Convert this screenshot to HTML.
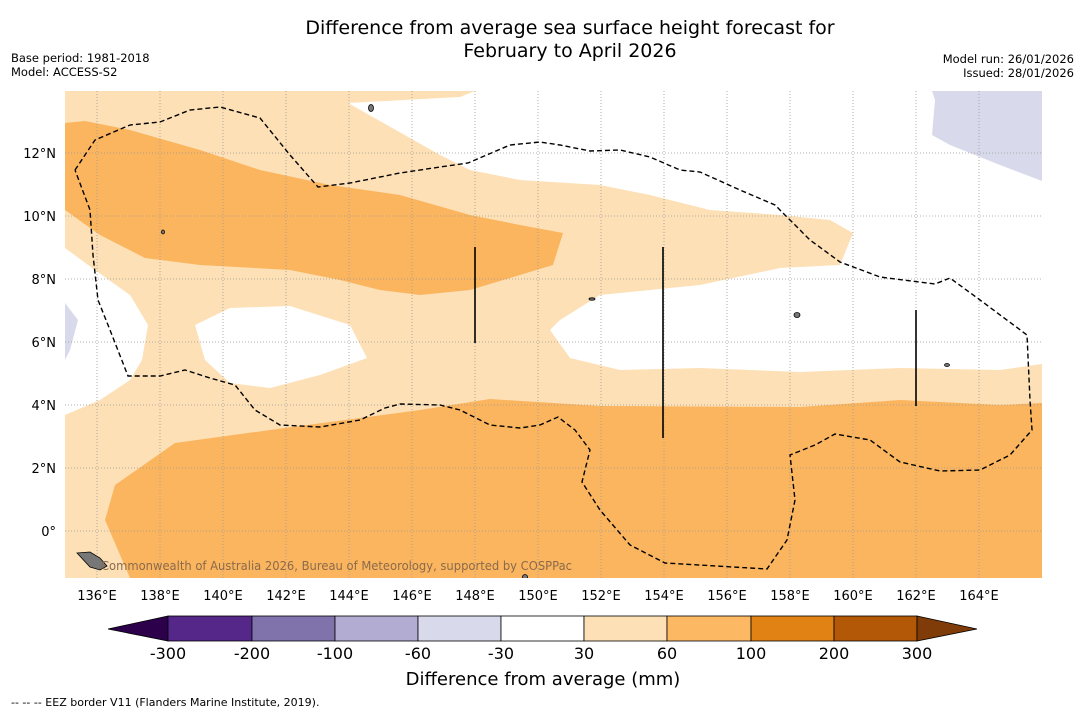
<!DOCTYPE html>
<html><head><meta charset="utf-8">
<style>
body{margin:0;background:#fff;width:1085px;height:713px;overflow:hidden;font-family:"Liberation Sans",sans-serif;}
svg text{font-family:"DejaVu Sans","Liberation Sans",sans-serif;}
</style></head>
<body>
<svg width="1085" height="713" viewBox="0 0 1085 713" xmlns="http://www.w3.org/2000/svg">
<rect width="1085" height="713" fill="#fff"/>
<text x="570" y="34" font-size="19" text-anchor="middle">Difference from average sea surface height forecast for</text>
<text x="570" y="57" font-size="19" text-anchor="middle">February to April 2026</text>
<text x="11" y="62" font-size="11.5">Base period: 1981-2018</text>
<text x="11" y="76" font-size="11.5">Model: ACCESS-S2</text>
<text x="1074" y="63" font-size="11.5" text-anchor="end">Model run: 26/01/2026</text>
<text x="1074" y="77" font-size="11.5" text-anchor="end">Issued: 28/01/2026</text>

<defs><clipPath id="mc"><rect x="65" y="91" width="977" height="487"/></clipPath></defs>
<g clip-path="url(#mc)">
<rect x="65" y="91" width="977" height="487" fill="#fde0b6"/>
<polygon fill="#fff" points="475,91 1042,91 1042,364 1000,370 900,368 800,372 700,368 620,370 570,358 550,330 560,320 600,295 700,285 780,268 840,265 853,233 830,220 780,215 710,210 650,195 600,185 520,180 470,170 440,155 348,103 460,97"/>
<polygon fill="#fff" points="65,248 95,270 130,295 148,325 142,360 130,380 100,400 65,415"/>
<polygon fill="#fff" points="195,325 230,308 290,306 350,325 367,358 320,375 270,388 230,383 205,360"/>
<polygon fill="#d8daeb" points="932,91 1042,91 1042,181 1000,165 950,145 932,135 935,100"/>
<polygon fill="#d8daeb" points="65,303 78,320 70,350 65,360"/>
<polygon fill="#fbb55f" points="65,123 85,121 130,130 200,150 260,170 330,185 400,195 470,215 520,225 563,233 553,265 520,275 470,290 420,295 380,290 340,280 290,270 200,265 145,258 100,235 65,210"/>
<polygon fill="#fbb55f" points="115,485 175,443 270,430 360,418 420,410 490,399 600,406 800,407 900,400 1000,405 1042,403 1042,578 130,578 105,520"/>
<g stroke="#999" stroke-width="0.8" stroke-dasharray="1,2">
<line x1="97" y1="91" x2="97" y2="578"/><line x1="160" y1="91" x2="160" y2="578"/><line x1="223" y1="91" x2="223" y2="578"/><line x1="286" y1="91" x2="286" y2="578"/><line x1="349" y1="91" x2="349" y2="578"/><line x1="412" y1="91" x2="412" y2="578"/><line x1="475" y1="91" x2="475" y2="578"/><line x1="538" y1="91" x2="538" y2="578"/><line x1="601" y1="91" x2="601" y2="578"/><line x1="664" y1="91" x2="664" y2="578"/><line x1="727" y1="91" x2="727" y2="578"/><line x1="790" y1="91" x2="790" y2="578"/><line x1="853" y1="91" x2="853" y2="578"/><line x1="916" y1="91" x2="916" y2="578"/><line x1="979" y1="91" x2="979" y2="578"/>
<line x1="65" y1="153" x2="1042" y2="153"/><line x1="65" y1="216" x2="1042" y2="216"/><line x1="65" y1="279" x2="1042" y2="279"/><line x1="65" y1="342" x2="1042" y2="342"/><line x1="65" y1="405" x2="1042" y2="405"/><line x1="65" y1="468" x2="1042" y2="468"/><line x1="65" y1="531" x2="1042" y2="531"/>
</g>
<polyline fill="none" stroke="#000" stroke-width="1.4" stroke-dasharray="5,3" points="75,170 95,140 130,125 160,122 190,110 220,107 260,118 290,155 318,187 350,183 400,173 440,167 468,163 475,160 510,145 540,142 560,145 590,151 620,150 650,157 680,170 700,172 740,190 775,205 790,220 810,240 840,262 880,277 935,284 950,278 980,300 1027,335 1030,400 1032,430 1010,455 980,470 940,471 900,462 870,440 835,434 815,445 790,455 795,500 787,540 767,569 665,563 630,545 600,510 582,482 590,450 575,430 558,417 540,425 520,428 490,425 460,410 440,405 400,404 385,408 360,420 320,427 280,425 255,410 235,385 210,378 185,370 160,376 128,376 110,330 98,300 93,255 90,210 75,170"/>
<g stroke="#000" stroke-width="1.6">
<line x1="475" y1="247" x2="475" y2="343"/><line x1="663" y1="247" x2="663" y2="438"/><line x1="916" y1="310" x2="916" y2="406"/>
</g>
<g fill="#777" stroke="#000" stroke-width="0.8">
<polygon points="77,553 90,552 100,558 107,566 100,570 90,567"/>
<ellipse cx="371" cy="108" rx="2.5" ry="3.5"/><ellipse cx="797" cy="315" rx="3" ry="2.5"/><ellipse cx="947" cy="365" rx="2.5" ry="1.5"/><ellipse cx="525" cy="577" rx="2.5" ry="2.5"/><ellipse cx="163" cy="232" rx="1.5" ry="2"/><ellipse cx="592" cy="299" rx="3" ry="1.2"/>
</g>
<text x="101" y="570" font-size="12" fill="#8a6a4a" textLength="471" lengthAdjust="spacingAndGlyphs">Commonwealth of Australia 2026, Bureau of Meteorology, supported by COSPPac</text>
</g>

<g font-size="13" text-anchor="middle">
<text x="97" y="600">136°E</text><text x="160" y="600">138°E</text><text x="223" y="600">140°E</text><text x="286" y="600">142°E</text><text x="349" y="600">144°E</text><text x="412" y="600">146°E</text><text x="475" y="600">148°E</text><text x="538" y="600">150°E</text><text x="601" y="600">152°E</text><text x="664" y="600">154°E</text><text x="727" y="600">156°E</text><text x="790" y="600">158°E</text><text x="853" y="600">160°E</text><text x="916" y="600">162°E</text><text x="979" y="600">164°E</text>
</g>
<g font-size="13" text-anchor="end">
<text x="56" y="158">12°N</text><text x="56" y="221">10°N</text><text x="56" y="284">8°N</text><text x="56" y="347">6°N</text><text x="56" y="410">4°N</text><text x="56" y="473">2°N</text><text x="56" y="536">0°</text>
</g>

<g stroke="#000" stroke-width="0.8">
<polygon points="168,616 108,629 168,641" fill="#2d004b"/>
<rect x="168" y="616" width="84" height="25" fill="#542788"/>
<rect x="252" y="616" width="83" height="25" fill="#8073ac"/>
<rect x="335" y="616" width="83" height="25" fill="#b2abd2"/>
<rect x="418" y="616" width="83" height="25" fill="#d8daeb"/>
<rect x="501" y="616" width="83" height="25" fill="#ffffff"/>
<rect x="584" y="616" width="83" height="25" fill="#fee0b6"/>
<rect x="667" y="616" width="84" height="25" fill="#fdb863"/>
<rect x="751" y="616" width="83" height="25" fill="#e08214"/>
<rect x="834" y="616" width="83" height="25" fill="#b35806"/>
<polygon points="917,616 977,629 917,641" fill="#7f3b08"/>
</g>
<g font-size="16" text-anchor="middle">
<text x="168" y="659">-300</text><text x="252" y="659">-200</text><text x="335" y="659">-100</text><text x="418" y="659">-60</text><text x="501" y="659">-30</text><text x="584" y="659">30</text><text x="667" y="659">60</text><text x="751" y="659">100</text><text x="834" y="659">200</text><text x="917" y="659">300</text>
</g>
<text x="543" y="685" font-size="18" text-anchor="middle">Difference from average (mm)</text>
<text x="11" y="706" font-size="11">--  --  -- EEZ border V11 (Flanders Marine Institute, 2019).</text>
</svg>
</body></html>
